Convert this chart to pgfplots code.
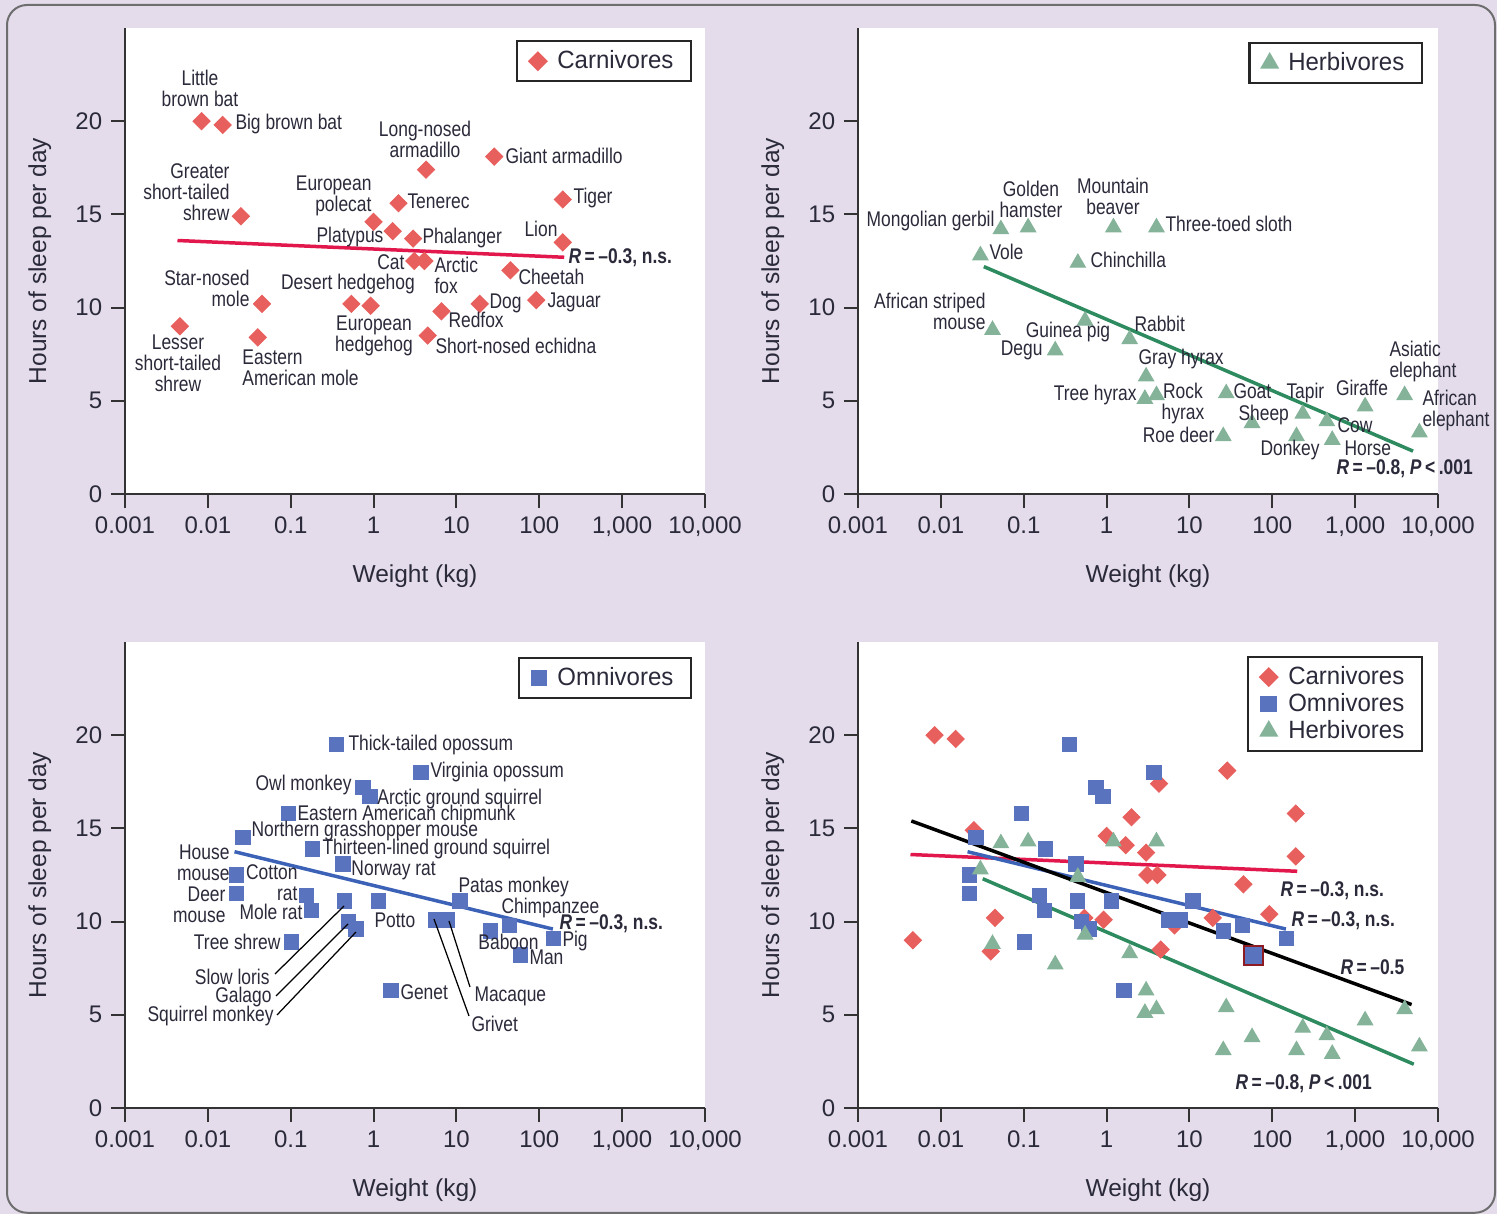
\documentclass[border=0pt]{standalone}
\usepackage{fontspec}
\setmainfont{Liberation Sans}
\newfontfamily\cond[FakeStretch=0.82]{Liberation Sans}
\newfontfamily\legfont[FakeStretch=0.96]{Liberation Sans}
\usepackage{pgfplots}
\pgfplotsset{compat=1.18}
\usepackage{pgfplotstable}

\definecolor{bgcol}{HTML}{E4DCEB}
\definecolor{framecol}{HTML}{6E6E6E}
\definecolor{carn}{HTML}{E8605E}
\definecolor{omni}{HTML}{5A73BF}
\definecolor{herb}{HTML}{85B399}
\definecolor{carnline}{HTML}{E2184C}
\definecolor{omniline}{HTML}{3C62B7}
\definecolor{herbline}{HTML}{2E8B60}
\definecolor{axisgray}{HTML}{333333}
\definecolor{textdark}{HTML}{2A2A3A}
\definecolor{manred}{HTML}{8E1B22}

% body weight (kg) and daily sleep (h)
\pgfplotstableread{
x y
0.0084 20.0
0.0151 19.8
4.3 17.4
28.6 18.1
0.025 14.9
2.0 15.6
192 15.8
1.0 14.6
1.7 14.1
3.0 13.7
192 13.5
3.1 12.5
4.1 12.5
44.8 12.0
0.045 10.2
0.54 10.2
0.92 10.1
19.1 10.2
92 10.4
6.6 9.8
0.0046 9.0
0.040 8.4
4.5 8.5
}\carnivores

\pgfplotstableread{
x y
0.053 14.2
0.113 14.3
1.21 14.3
4.0 14.3
0.030 12.8
0.45 12.4
0.042 8.8
0.55 9.3
1.9 8.3
0.24 7.7
3.0 6.3
2.9 5.1
4.0 5.3
27.8 5.4
25.6 3.1
57 3.8
233 4.3
196 3.1
455 3.9
529 2.9
1318 4.7
3955 5.3
5960 3.3
}\herbivores

\pgfplotstableread{
x y
0.358 19.5
3.72 18.0
0.746 17.2
0.90 16.7
0.094 15.8
0.0267 14.5
0.183 13.9
0.43 13.1
0.0223 12.5
0.0223 11.5
0.155 11.4
0.177 10.6
0.448 11.1
1.14 11.1
0.498 10.0
0.617 9.6
0.102 8.9
5.6 10.1
7.8 10.1
11.0 11.1
43.8 9.8
25.8 9.5
149 9.1
59.7 8.2
1.62 6.3
}\omnivores

\newcommand\Rlab[1]{\bfseries\textit{R}\,=\,#1}

% shared look of the four panels
\pgfplotsset{
  every axis/.append style={
    scale only axis, width=232pt, height=186.4pt,
    xmin=0.001, xmax=10000, ymin=0, ymax=25,
    axis x line*=bottom, axis y line*=left,
    axis line style={-, line width=0.8pt, draw=axisgray},
    tick style={line width=0.8pt, color=axisgray},
    tick align=outside, major tick length=5.6pt, minor tick length=0pt,
    xtick={0.001,0.01,0.1,1,10,100,1000,10000},
    xticklabels={0.001,0.01,0.1,1,10,100,{1,000},{10,000}},
    ytick={0,5,10,15,20},
    yticklabels={0,5,10,15,20},
    tick label style={font=\fontsize{9.6}{11}\selectfont, text=textdark},
    xlabel={Weight (kg)}, ylabel={Hours of sleep per day},
    label style={font=\fontsize{9.8}{11}\selectfont, text=textdark},
    xlabel style={at={(axis description cs:0.5,-0.176)}, anchor=center},
    ylabel style={at={(axis description cs:-0.147,0.5)}, anchor=center},
    axis background/.style={fill=white},
    clip=false,
    legend cell align=left,
    legend style={draw=black!85, line width=0.9pt, fill=white,
      font=\legfont\fontsize{10}{11}\selectfont, text=textdark,
      anchor=north east, inner xsep=5pt, inner ysep=2.6pt, column sep=2.4pt,
      nodes={inner ysep=0.8pt, text height=7.6pt, text depth=1.6pt}},
  },
}

\begin{document}
\begin{tikzpicture}
\fill[bgcol] (0,0) rectangle (598.8pt,485.6pt);
\draw[framecol, line width=0.8pt, rounded corners=8pt] (2.8pt,0.5pt) rectangle (598pt,483.6pt);

% Carnivores
\begin{semilogxaxis}[at={(50pt,288pt)}, anchor=south west,
  legend style={at={(0.9776,0.974)}}]
\addplot[only marks, mark=square*, mark size=2.4pt, mark options={rotate=45, fill=carn, draw=carn}] table {\carnivores};
\addlegendentry{Carnivores}
\addplot[no marks, line width=1.4pt, carnline, forget plot] coordinates {(0.0043,13.6) (200,12.7)};
\end{semilogxaxis}

% Herbivores
\begin{semilogxaxis}[at={(343.2pt,288pt)}, anchor=south west,
  legend style={at={(0.974,0.97)}}]
\addplot[only marks, mark=triangle*, mark size=3.5pt, mark options={fill=herb, draw=herb}] table {\herbivores};
\addlegendentry{Herbivores}
\addplot[no marks, line width=1.4pt, herbline, forget plot] coordinates {(0.033,12.2) (5000,2.3)};
\end{semilogxaxis}

% Omnivores
\begin{semilogxaxis}[at={(50pt,42.4pt)}, anchor=south west,
  legend style={at={(0.9776,0.968)}}]
\addplot[only marks, mark=square*, mark size=2.9pt, mark options={fill=omni, draw=omni}] table {\omnivores};
\addlegendentry{Omnivores}
\addplot[no marks, line width=1.4pt, omniline, forget plot] coordinates {(0.021,13.75) (146,9.6)};
\end{semilogxaxis}

% All groups together
\begin{semilogxaxis}[at={(343.2pt,42.4pt)}, anchor=south west,
  legend style={at={(0.974,0.97)}}]
\addplot[only marks, mark=square*, mark size=2.4pt, mark options={rotate=45, fill=carn, draw=carn}] table {\carnivores};
\addlegendentry{Carnivores}
\addplot[only marks, mark=square*, mark size=2.9pt, mark options={fill=omni, draw=omni}] table {\omnivores};
\addlegendentry{Omnivores}
\addplot[only marks, mark=triangle*, mark size=3.5pt, mark options={fill=herb, draw=herb}] table {\herbivores};
\addlegendentry{Herbivores}
\addplot[only marks, mark=square*, mark size=3.8pt, forget plot,
  mark options={fill=omni, draw=manred, line width=0.9pt}] coordinates {(59.7,8.2)};
\addplot[no marks, line width=1.4pt, carnline, forget plot] coordinates {(0.0043,13.6) (200,12.7)};
\addplot[no marks, line width=1.4pt, omniline, forget plot] coordinates {(0.021,13.75) (146,9.6)};
\addplot[no marks, line width=1.4pt, black, forget plot] coordinates {(0.0044,15.4) (4800,5.55)};
\addplot[no marks, line width=1.4pt, herbline, forget plot] coordinates {(0.032,12.3) (5100,2.35)};
\end{semilogxaxis}

\begin{scope}[shift={(0pt,485.6pt)}, x=0.4pt, y=-0.4pt,
  every node/.style={inner sep=0pt, text=textdark, font=\cond\fontsize{8.5}{8.4}\selectfont}]
% carnivore names
\node[align=center] at (200,88) {Little\\brown bat};
\node[anchor=west] at (235,124) {Big brown bat};
\node[align=center] at (425,139) {Long-nosed\\armadillo};
\node[anchor=west] at (505,156) {Giant armadillo};
\node[anchor=east, align=right] at (230,192) {Greater\\short-tailed\\shrew};
\node[anchor=east, align=right] at (372,196) {European\\polecat};
\node[anchor=west] at (407,201) {Tenerec};
\node[anchor=west] at (573,198) {Tiger};
\node at (350,237) {Platypus};
\node[anchor=west] at (422,238) {Phalanger};
\node[anchor=east] at (558,229) {Lion};
\node[anchor=east] at (405,262) {Cat};
\node[anchor=west, align=left] at (434,275) {Arctic\\fox};
\node[anchor=west] at (518,277) {Cheetah};
\node[anchor=east, align=right] at (250,288) {Star-nosed\\mole};
\node at (348,284) {Desert hedgehog};
\node[align=center] at (374,336) {European\\hedgehog};
\node[anchor=west] at (489,303) {Dog};
\node[anchor=west] at (547,302) {Jaguar};
\node[anchor=west] at (448,320) {Redfox};
\node[anchor=west] at (435,346) {Short-nosed echidna};
\node[align=center] at (178,363) {Lesser\\short-tailed\\shrew};
\node[anchor=west, align=left] at (242,368) {Eastern\\American mole};
\node[anchor=west] at (568,258) {\Rlab{–0.3, n.s.}};
% herbivore names
\node[anchor=east] at (995,221) {Mongolian gerbil};
\node[align=center] at (1031,199) {Golden\\hamster};
\node[align=center] at (1113,196) {Mountain\\beaver};
\node[anchor=west] at (1165,224) {Three-toed sloth};
\node[anchor=west] at (989,252) {Vole};
\node[anchor=west] at (1090,260) {Chinchilla};
\node[anchor=east, align=right] at (986,311) {African striped\\mouse};
\node at (1068,332) {Guinea pig};
\node[anchor=east] at (1043,350) {Degu};
\node[anchor=west] at (1134,324) {Rabbit};
\node[anchor=west] at (1138,359) {Gray hyrax};
\node[anchor=east] at (1137,395) {Tree hyrax};
\node[align=center] at (1183,404) {Rock\\hyrax};
\node[anchor=east] at (1215,435) {Roe deer};
\node[anchor=west] at (1233,391) {Goat};
\node[anchor=west] at (1238,415) {Sheep};
\node[anchor=west] at (1286,393) {Tapir};
\node[anchor=west] at (1260,450) {Donkey};
\node[anchor=west] at (1337,425) {Cow};
\node[anchor=west] at (1344,448) {Horse};
\node at (1362,388) {Giraffe};
\node[anchor=west, align=left] at (1389,362) {Asiatic\\elephant};
\node[anchor=west, align=left] at (1422,411) {African\\elephant};
\node[anchor=west] at (1336,469) {\Rlab{–0.8, \textit{P}\,<\,.001}};
% omnivore names
\node[anchor=west] at (348,745) {Thick-tailed opossum};
\node[anchor=west] at (430,772) {Virginia opossum};
\node[anchor=east] at (352,785) {Owl monkey};
\node[anchor=west] at (377,799) {Arctic ground squirrel};
\node[anchor=west] at (297,815) {Eastern American chipmunk};
\node[anchor=west] at (251,831) {Northern grasshopper mouse};
\node[anchor=west] at (322,849) {Thirteen-lined ground squirrel};
\node[anchor=west] at (351,870) {Norway rat};
\node[anchor=east, align=right] at (230,863) {House\\mouse};
\node[anchor=east, align=right] at (298,883) {Cotton\\rat};
\node[anchor=east, align=right] at (226,905) {Deer\\mouse};
\node[anchor=east] at (303,912) {Mole rat};
\node[anchor=west] at (374,920) {Potto};
\node[anchor=east] at (281,942) {Tree shrew};
\node[anchor=east] at (270,977) {Slow loris};
\node[anchor=east] at (272,997) {Galago};
\node[anchor=east] at (274,1016) {Squirrel monkey};
\node[anchor=west] at (400,992) {Genet};
\node[anchor=west] at (474,996) {Macaque};
\node[anchor=west] at (471,1024) {Grivet};
\node[anchor=west] at (458,887) {Patas monkey};
\node[anchor=west] at (501,908) {Chimpanzee};
\node[anchor=west] at (478,942) {Baboon};
\node[anchor=west] at (562,941) {Pig};
\node[anchor=west] at (529,957) {Man};
\node[anchor=west] at (559,924) {\Rlab{–0.3, n.s.}};
\draw[black, line width=0.5pt] (275,974) -- (344,906);
\draw[black, line width=0.5pt] (276,996) -- (348,924);
\draw[black, line width=0.5pt] (277,1015) -- (356,932);
\draw[black, line width=0.5pt] (434,919) -- (469,1016);
\draw[black, line width=0.5pt] (449,921) -- (470,987);
% correlation labels, all groups
\node[anchor=west] at (1280,891) {\Rlab{–0.3, n.s.}};
\node[anchor=west] at (1291,921) {\Rlab{–0.3, n.s.}};
\node[anchor=west] at (1340,967) {\Rlab{–0.5}};
\node[anchor=west] at (1235,1084) {\Rlab{–0.8, \textit{P}\,<\,.001}};
\end{scope}
\end{tikzpicture}
\end{document}
